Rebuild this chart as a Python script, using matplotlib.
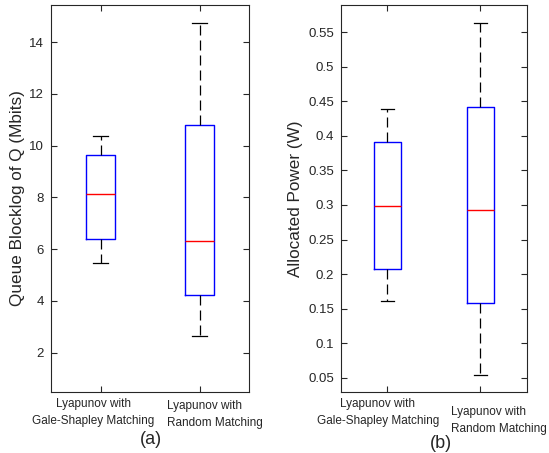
import matplotlib
matplotlib.use("Agg")
import matplotlib.pyplot as plt
from matplotlib.transforms import ScaledTranslation

plt.rcParams['font.family'] = ['Liberation Sans', 'DejaVu Sans']

# box labels
groups = ["Lyapunov with\nGale-Shapley Matching", "Lyapunov with\nRandom Matching"]

# (a) queue backlog, Mbits: low whisker, q1, median, q3, high whisker
queue_low = [5.48, 2.66]
queue_q1 = [6.38, 4.22]
queue_med = [8.12, 6.32]
queue_q3 = [9.66, 10.79]
queue_high = [10.38, 14.73]

# (b) allocated power, W
power_low = [0.1615, 0.054]
power_q1 = [0.2078, 0.1581]
power_med = [0.299, 0.2923]
power_q3 = [0.3916, 0.4423]
power_high = [0.4394, 0.563]

grey = "#262626"


def make_stats(lo, q1, med, q3, hi):
    stats = []
    for i in range(len(lo)):
        stats.append({"whislo": lo[i], "q1": q1[i], "med": med[i],
                      "q3": q3[i], "whishi": hi[i], "fliers": []})
    return stats


def draw_box(ax, stats, ylim, yticks, ylabel, label_shift, ylab_x):
    ax.bxp(stats, positions=[1, 2], widths=0.3, showfliers=False,
           boxprops=dict(color="blue", linewidth=1.0),
           medianprops=dict(color="red", linewidth=1.0),
           whiskerprops=dict(color="black", linestyle=(0, (8, 4)), linewidth=0.9),
           capprops=dict(color="black", linewidth=0.9))
    ax.set_xlim(0.5, 2.5)
    ax.set_ylim(ylim)
    ax.set_yticks(yticks)
    ax.set_xticks([1, 2])
    ax.set_xticklabels(groups, fontsize=8.5, color=grey, linespacing=1.55)
    ax.tick_params(direction="in", top=True, right=True, length=4,
                   color=grey, labelcolor=grey)
    ax.tick_params(axis="x", pad=4.5)
    ax.tick_params(axis="y", labelsize=9.5, pad=5)
    ax.set_ylabel(ylabel, fontsize=12.3, color=grey)
    ax.yaxis.set_label_coords(ylab_x, 0.5)
    for s in ax.spines.values():
        s.set_color(grey)
        s.set_linewidth(0.8)
    # labels in the original sit a bit off the ticks
    labs = ax.get_xticklabels()
    labs[1].set_multialignment("left")
    for lab, (dx, dy) in zip(labs, label_shift):
        lab.set_transform(lab.get_transform() +
                          ScaledTranslation(dx / 100, dy / 100, fig.dpi_scale_trans))
    return ax


fig = plt.figure(figsize=(5.49, 4.53), dpi=100)

ax1 = fig.add_axes([0.0929, 0.1347, 0.3607, 0.8543])
draw_box(ax1, make_stats(queue_low, queue_q1, queue_med, queue_q3, queue_high),
         (0.48, 15.44), [2, 4, 6, 8, 10, 12, 14], "Queue Blocklog of Q (Mbits)",
         [(-7, 0), (15, -2)], -0.131)

ax2 = fig.add_axes([0.6211, 0.1347, 0.3388, 0.8543])
draw_box(ax2, make_stats(power_low, power_q1, power_med, power_q3, power_high),
         (0.0293, 0.5895), [0.05, 0.1, 0.15, 0.2, 0.25, 0.3, 0.35, 0.4, 0.45, 0.5, 0.55],
         "Allocated Power (W)", [(-9.5, 0), (18, -8)], -0.206)
ax2.set_yticklabels(["0.05", "0.1", "0.15", "0.2", "0.25", "0.3", "0.35", "0.4",
                     "0.45", "0.5", "0.55"])

fig.text(150.5 / 549, 1 - 439 / 453, "(a)", ha="center", va="center",
         fontsize=13, color=grey)
fig.text(440.5 / 549, 1 - 444 / 453, "(b)", ha="center", va="center",
         fontsize=13, color=grey)

fig.savefig("out.png", dpi=100)
